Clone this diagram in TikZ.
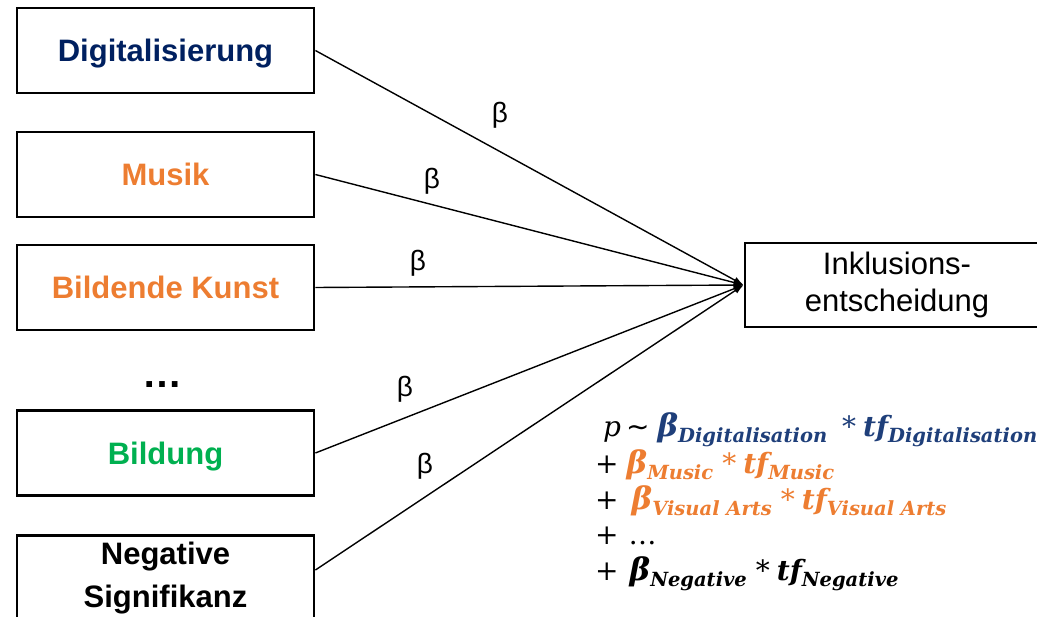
\documentclass[tikz,border=0pt]{standalone}
\usepackage{fontspec}
\setmainfont{Liberation Sans}
\newfontfamily\formfont{DejaVu Serif}
\newfontfamily\symfont{DejaVu Sans}
\usetikzlibrary{arrows.meta}
\definecolor{navy}{HTML}{002060}
\definecolor{fblue}{HTML}{1F3F7A}
\definecolor{orng}{HTML}{ED7D31}
\definecolor{grn}{HTML}{00B050}
% subscript and multiplication sign in the formula
\newcommand{\fsub}[1]{\raisebox{-6pt}{\fontsize{19.5}{19.5}\selectfont #1}}
\newcommand{\ftimes}{\hspace{9pt}{\mdseries\upshape*}\hspace{7pt}}
\newcommand{\fbeta}{{\fontsize{31}{31}\selectfont β}}
\begin{document}
\begin{tikzpicture}[x=1pt,y=-1pt,
  inbox/.style={draw,line width=2.8pt,minimum width=297pt,minimum height=85pt,
    inner sep=0pt,align=center,font=\fontsize{31}{43}\selectfont\bfseries},
  outbox/.style={draw,line width=2.8pt,minimum width=304pt,minimum height=84pt,
    inner sep=0pt,align=center,font=\fontsize{31}{37}\selectfont},
  edge/.style={line width=1.4pt,-{Latex[length=10pt,width=7pt]}},
  blabel/.style={font=\fontsize{28}{28}\selectfont,inner sep=0pt},
  fline/.style={anchor=base west,inner sep=0pt,font=\formfont\fontsize{28}{28}\selectfont\bfseries\itshape}]
\useasboundingbox (0,0) rectangle (1037,617);
\clip (0,0) rectangle (1037,617);

% input factors
\node[inbox,text=navy,text depth=0pt] (dig) at (165.5,50.5) {Digitalisierung};
\node[inbox,text=orng,text depth=0pt] (mus) at (165.5,174.5) {Musik};
\node[inbox,text=orng,text depth=0pt] (kun) at (165.5,287.5) {Bildende\ Kunst};
\node[font=\fontsize{40}{40}\selectfont\bfseries,inner sep=0pt] (dots) at (162,385) {…};
\node[inbox,text=grn,text depth=0pt] (bil) at (165.5,453) {Bildung};
\node[inbox] (neg) at (165.5,578) {Negative\\Signifikanz};

% decision
\node[outbox] (tgt) at (897,285) {Inklusions-\\entscheidung};

% weighted edges
\draw[edge] (dig.east) -- (tgt.west);
\draw[edge] (mus.east) -- (tgt.west);
\draw[edge] (kun.east) -- (tgt.west);
\draw[edge] (bil.east) -- (tgt.west);
\draw[edge] ([yshift=8pt]neg.east) -- (tgt.west);

\node[blabel] (b1) at (500,115) {β};
\node[blabel] (b2) at (432,181) {β};
\node[blabel] (b3) at (418,263) {β};
\node[blabel] (b4) at (405,389) {β};
\node[blabel] (b5) at (425,466) {β};

% scoring formula
\node[fline] (f1) at (603,437) {{\mdseries p}\hspace{5pt}{\symfont\mdseries\upshape ∼}\hspace{8pt}\textcolor{fblue}{\fbeta\fsub{Digitalisation}\hspace{6pt}\ftimes tf\fsub{Digitalisation}}};
\node[fline] (f2) at (595,474) {{\mdseries\upshape +}\hspace{8pt}\textcolor{orng}{\fbeta\fsub{Music}\ftimes tf\fsub{Music}}};
\node[fline] (f3) at (595,510) {{\mdseries\upshape +}\hspace{13pt}\textcolor{orng}{\fbeta\fsub{Visual Arts}\ftimes tf\fsub{Visual Arts}}};
\node[fline] (f4) at (595,545) {{\mdseries\upshape +\hspace{10pt}…}};
\node[fline] (f5) at (595,580) {{\mdseries\upshape +}\hspace{11pt}\fbeta\fsub{Negative}\ftimes tf\fsub{Negative}};
\end{tikzpicture}
\end{document}
